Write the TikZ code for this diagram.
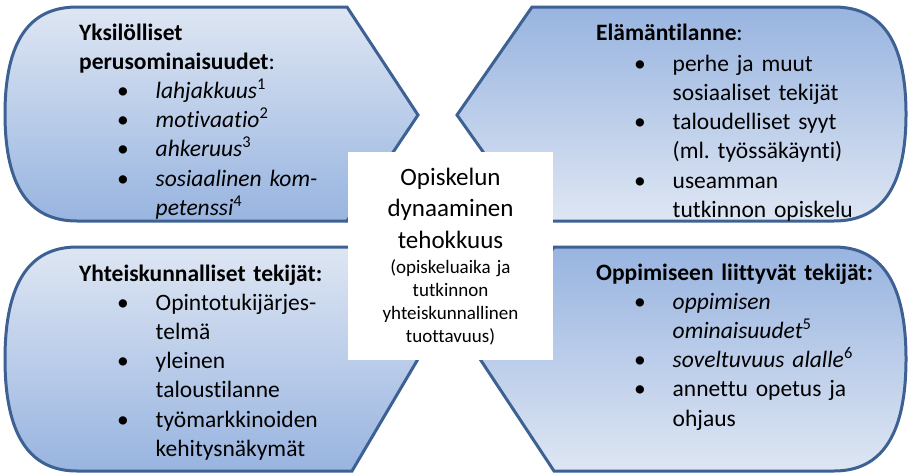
\documentclass[tikz,border=0pt]{standalone}
\usepackage{fontspec}
\setmainfont{Carlito}[Ligatures=NoCommon]
\usepackage{xcolor}
\usepackage{tikz}
\definecolor{boxlight}{RGB}{222,230,243}
\definecolor{boxdark}{RGB}{152,180,224}
\definecolor{boxline}{RGB}{60,97,146}
\tikzstyle{lens}=[draw=boxline,line width=3pt,line join=miter]
\tikzstyle{lightup}=[lens,top color=boxlight,bottom color=boxdark]
\tikzstyle{darkup}=[lens,top color=boxdark,bottom color=boxlight]
\tikzstyle{block}=[anchor=base west,inner sep=0pt,text width=320pt,align=left,font=\fontsize{23.5}{29.2}\selectfont]
\tikzstyle{hub}=[fill=white,inner sep=0pt,minimum width=205pt,minimum height=208pt]
\tikzstyle{hubtext}=[anchor=base,inner sep=0pt,text width=200pt,align=center]
\newcommand\itm{\hspace*{38pt}\makebox[38.5pt][l]{\textbullet}}
\newcommand\cont{\hspace*{76.5pt}}
\frenchspacing

\begin{document}
\begin{tikzpicture}[x=1pt,y=-1pt]
	\useasboundingbox (0,0) rectangle (909,474);
	% the four blocks
	\draw[lightup] (347,7) -- (418,115) -- (347,221) -- (77,221)
		.. controls (30,221) and (5,188) .. (5,114)
		.. controls (5,40) and (30,7) .. (77,7) -- cycle;
	\draw[darkup] (532,7) -- (834,7)
		.. controls (881,7) and (906,40) .. (906,114)
		.. controls (906,188) and (881,221) .. (834,221) -- (532,221) -- (457,115) -- cycle;
	\draw[lightup] (352,247) -- (418,359) -- (352,471) -- (77,471)
		.. controls (30,471) and (5,436) .. (5,359)
		.. controls (5,282) and (30,247) .. (77,247) -- cycle;
	\draw[darkup] (554,247) -- (834,247)
		.. controls (881,247) and (906,282) .. (906,359)
		.. controls (906,436) and (881,471) .. (834,471) -- (554,471) -- (480,359) -- cycle;
	\node[hub] (hub) at (450.5,256) {};
	% texts
	\node[block] (yksilo) at (79,40) {\textbf{Yksilölliset}\\
		\textbf{perusominaisuudet}:\\
		\itm\textit{lahjakkuus}\textsuperscript{1}\\
		\itm\textit{motivaatio}\textsuperscript{2}\\
		\itm\textit{ahkeruus}\textsuperscript{3}\\
		\itm\textit{sosiaalinen kom-}\\
		\cont\textit{petenssi}\textsuperscript{4}};
	\node[block] (elama) at (596,40) {\textbf{Elämäntilanne}:\\[2pt]
		\itm perhe ja muut\\
		\cont sosiaaliset tekijät\\
		\itm taloudelliset syyt\\
		\cont(ml. työssäkäynti)\\
		\itm useamman\\
		\cont tutkinnon opiskelu};
	\node[block] (yhteis) at (79,281) {\textbf{Yhteiskunnalliset tekijät:}\\
		\itm Opintotukijärjes-\\
		\cont telmä\\
		\itm yleinen\\
		\cont taloustilanne\\
		\itm työmarkkinoiden\\
		\cont kehitysnäkymät};
	\node[block] (oppi) at (596,280) {\textbf{Oppimiseen liittyvät tekijät:}\\
		\itm\textit{oppimisen}\\
		\cont\textit{ominaisuudet}\textsuperscript{5}\\
		\itm\textit{soveltuvuus alalle}\textsuperscript{6}\\
		\itm annettu opetus ja\\
		\cont ohjaus};
	\node[hubtext,font=\fontsize{25}{31.5}\selectfont] (tehokkuus) at (450.5,185) {Opiskelun\\ dynaaminen\\ tehokkuus};
	\node[hubtext,font=\fontsize{19}{23.3}\selectfont] (tuottavuus) at (450.5,273) {(opiskeluaika ja\\ tutkinnon\\ yhteiskunnallinen\\ tuottavuus)};
\end{tikzpicture}
\end{document}
